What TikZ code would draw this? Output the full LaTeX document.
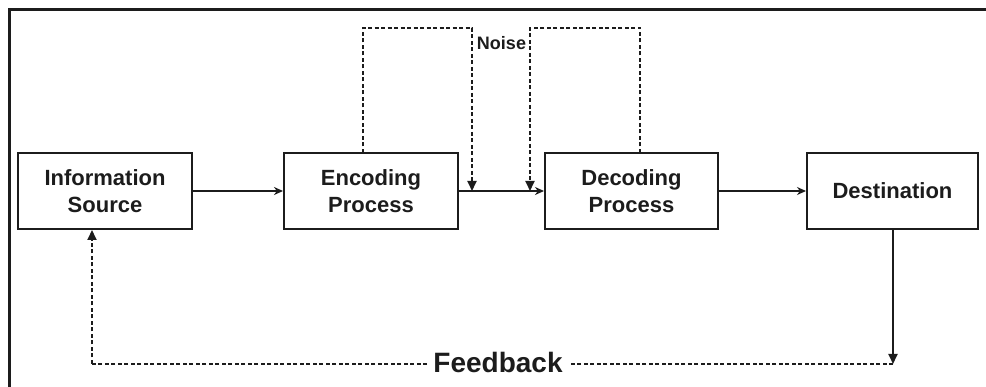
\documentclass[tikz,border=0pt]{standalone}
\usepackage{fontspec}
\setmainfont{Liberation Sans}
\usetikzlibrary{arrows.meta}
\definecolor{ink}{HTML}{1C1C1C}
\begin{document}
\begin{tikzpicture}[x=1pt,y=-1pt, color=ink,
  box/.style={draw, line width=2pt, minimum width=#1, minimum height=76pt,
    inner sep=0pt, align=center, font=\fontsize{22}{27}\selectfont\bfseries},
  box/.default=174pt,
  flow/.style={line width=1.8pt, -{Stealth[length=9pt,width=8pt]}},
  noisy/.style={line width=1.8pt, dash pattern=on 4pt off 2.5pt},
  noisetip/.style={noisy, -{Triangle[length=10pt,width=9pt]}},
  frameline/.style={line width=3pt}]
\useasboundingbox (0,0) rectangle (986,387);

% open frame: left and top sides only
\draw[frameline] (9,387) -- (9,10) -- (986,10);

% blocks
\node[box=174pt] (src) at (105,191) {Information\\Source};
\node[box=174pt] (enc) at (371,191) {Encoding\\Process};
\node[box=173pt] (dec) at (631.5,191) {Decoding\\Process};
\node[box=171pt] (dst) at (892.5,191) {Destination};

% main channel
\draw[flow] (src.east) -- (enc.west);
\draw[flow] (enc.east) -- (dec.west);
\draw[flow] (dec.east) -- (dst.west);

% noise loops
\coordinate (nA) at (472,191);
\coordinate (nB) at (530,191);
\coordinate (encTop) at (363,153);
\coordinate (decTop) at (640,153);
\draw[noisetip] (encTop) -- (363,28) -- (472,28) -- (nA);
\draw[noisetip] (decTop) -- (640,28) -- (530,28) -- (nB);
\node[font=\fontsize{18}{20}\selectfont\bfseries, inner sep=0pt] (noise) at (501.5,43) {Noise};

% feedback path
\coordinate (fbR) at (893,364);
\coordinate (fbL) at (92,364);
\draw[line width=1.8pt, -{Triangle[length=10pt,width=9pt]}] (dst.south -| fbR) -- (fbR);
\draw[noisy] (fbR) -- (569,364);
\draw[noisy] (427,364) -- (fbL);
\draw[noisetip] (fbL) -- (src.south -| fbL);
\node[font=\fontsize{28}{30}\selectfont\bfseries, inner sep=0pt] (fb) at (498,362) {Feedback};
\end{tikzpicture}
\end{document}
